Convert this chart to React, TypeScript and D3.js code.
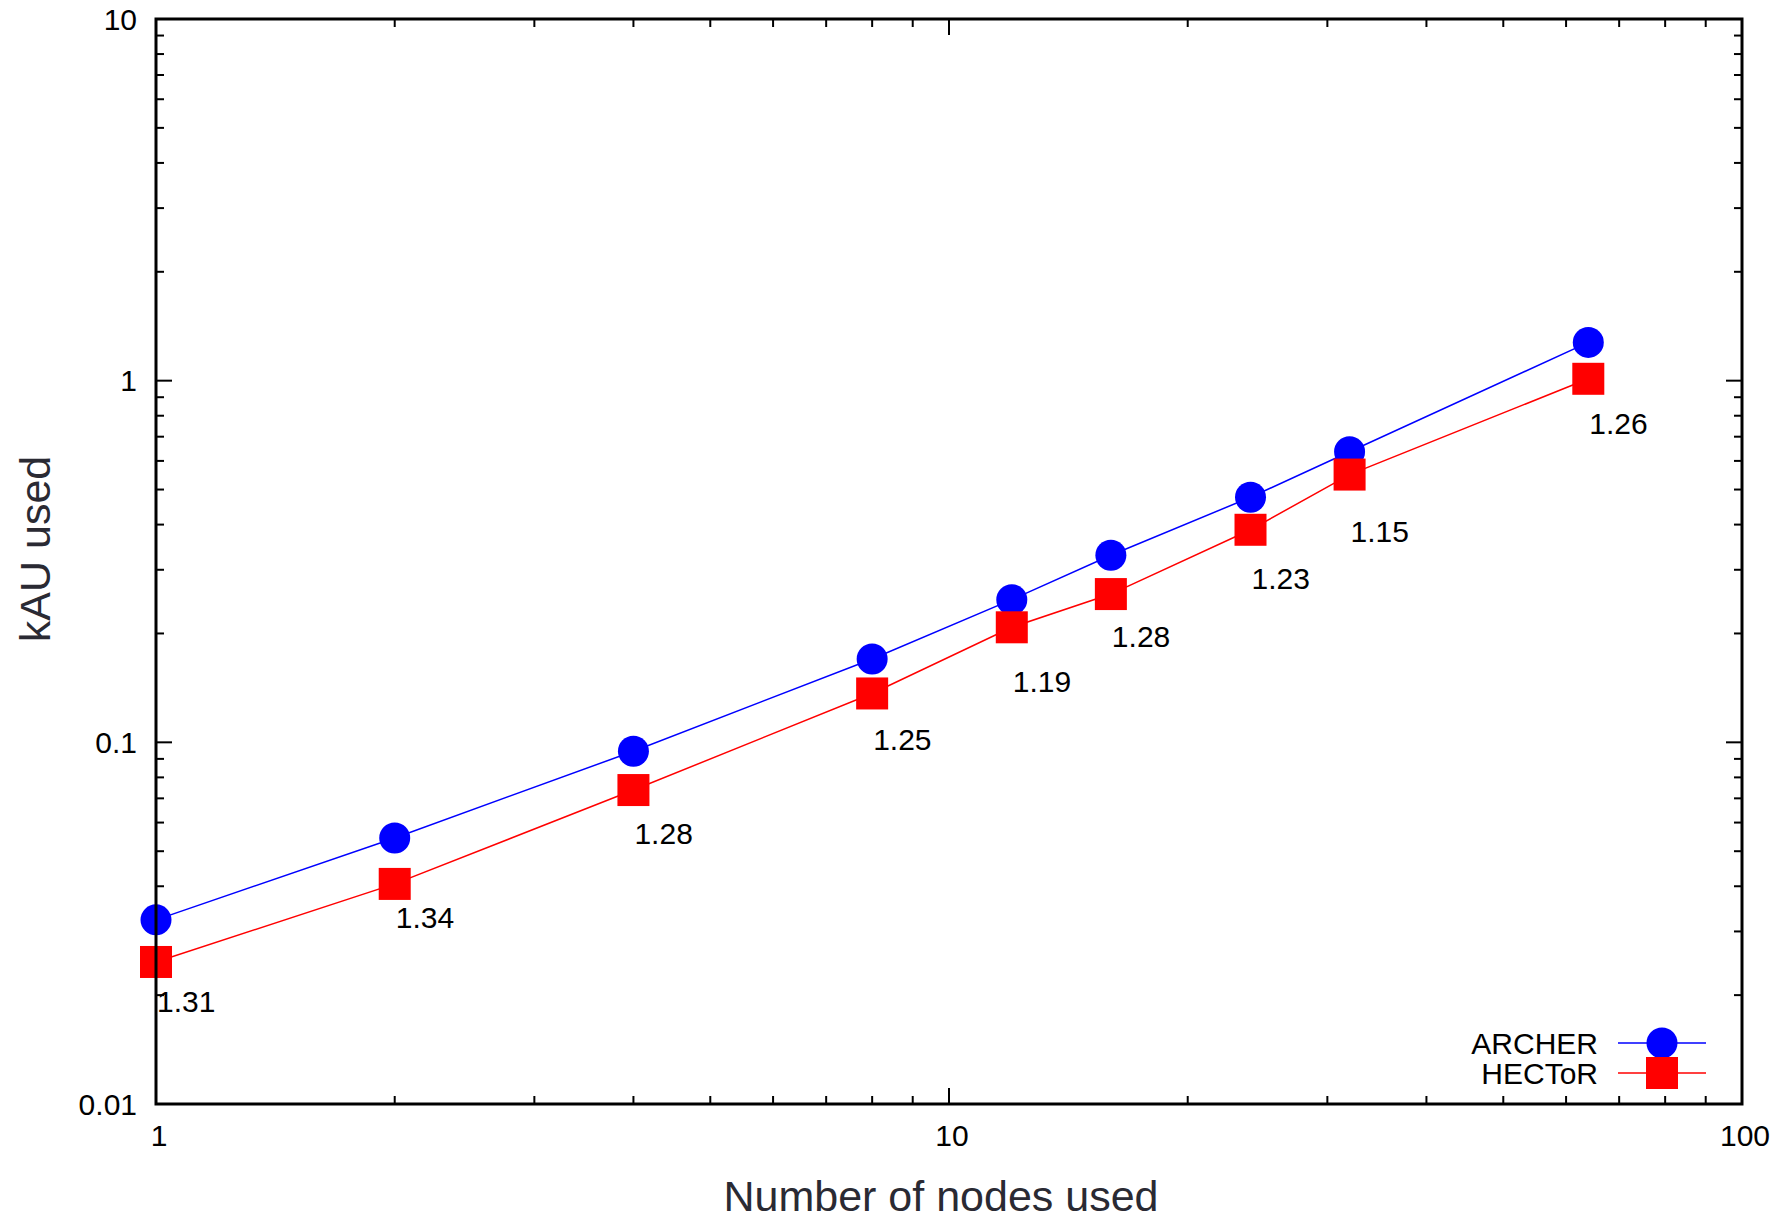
import React from 'react';
import * as d3 from 'd3';

// node counts and kAU used per system
const nodes = [1, 2, 4, 8, 12, 16, 24, 32, 64];
const archer = [0.0323, 0.0544, 0.0945, 0.170, 0.248, 0.329, 0.476, 0.636, 1.276];
const hector = [0.0247, 0.0406, 0.0738, 0.1365, 0.208, 0.257, 0.387, 0.550, 1.012];
// ratio labels and the kAU value where each label sits
const ratioLabels = ['1.31', '1.34', '1.28', '1.25', '1.19', '1.28', '1.23', '1.15', '1.26'];
const labelAt = [0.0180, 0.0306, 0.0522, 0.0955, 0.138, 0.184, 0.266, 0.357, 0.710];
const yTickLabels = ['0.01', '0.1', '1', '10'];
const xTickLabels = ['1', '10', '100'];

const W = 1786;
const H = 1223;
const margin = { top: 19, right: 44, bottom: 119, left: 156 };
const font = '"Liberation Sans", Arial, Helvetica, sans-serif';

const App = () => {
  const x = d3.scaleLog().domain([1, 100]).range([margin.left, W - margin.right]);
  const y = d3.scaleLog().domain([0.01, 10]).range([H - margin.bottom, margin.top]);
  const [x0, x1] = x.range();
  const [y0, y1] = y.range(); // y0 bottom, y1 top

  const isMajor = (v: number) => Math.abs(Math.log10(v) - Math.round(Math.log10(v))) < 1e-9;

  const line = d3.line<number>()
    .x((_, i) => x(nodes[i]))
    .y(d => y(d));

  const xt = x.ticks();
  const yt = y.ticks();

  return (
    <svg width={W} height={H} style={{ position: 'absolute', left: 0, top: 0, display: 'block' }}
      fontFamily={font}>
      <rect width={W} height={H} fill="#fff" />

      {/* ticks, mirrored on all four sides */}
      <g stroke="#000" strokeWidth={2}>
        {xt.map((t, i) => {
          const len = isMajor(t) ? 16 : 8;
          return (
            <g key={'x' + i}>
              <line x1={x(t)} x2={x(t)} y1={y0} y2={y0 - len} />
              <line x1={x(t)} x2={x(t)} y1={y1} y2={y1 + len} />
            </g>
          );
        })}
        {yt.map((t, i) => {
          const len = isMajor(t) ? 16 : 8;
          return (
            <g key={'y' + i}>
              <line x1={x0} x2={x0 + len} y1={y(t)} y2={y(t)} />
              <line x1={x1} x2={x1 - len} y1={y(t)} y2={y(t)} />
            </g>
          );
        })}
      </g>

      {/* series lines */}
      <path d={line(archer) ?? ''} fill="none" stroke="#0000ff" strokeWidth={1.5} />
      <path d={line(hector) ?? ''} fill="none" stroke="#ff0000" strokeWidth={1.5} />

      {/* markers */}
      {archer.map((v, i) => (
        <circle key={'a' + i} cx={x(nodes[i])} cy={y(v)} r={15.5} fill="#0000ff" />
      ))}
      {hector.map((v, i) => (
        <rect key={'h' + i} x={x(nodes[i]) - 16} y={y(v) - 16} width={32} height={32} fill="#ff0000" />
      ))}

      {/* ratio labels */}
      {ratioLabels.map((s, i) => (
        <text key={'l' + i} x={x(nodes[i]) + 1} y={y(labelAt[i])} fontSize={30} fill="#000">{s}</text>
      ))}

      {/* border */}
      <rect x={x0} y={y1} width={x1 - x0} height={y0 - y1} fill="none" stroke="#000" strokeWidth={3} />

      {/* tick labels */}
      {yTickLabels.map(s => (
        <text key={'yl' + s} x={x0 - 19} y={y(+s)} dy="0.36em" textAnchor="end" fontSize={30} fill="#000">{s}</text>
      ))}
      {xTickLabels.map(s => (
        <text key={'xl' + s} x={x(+s) + 3} y={y0 + 42} textAnchor="middle" fontSize={30} fill="#000">{s}</text>
      ))}

      {/* axis titles */}
      <text x={(x0 + x1) / 2 - 8} y={1211} textAnchor="middle" fontSize={43} fill="#2a2a33">Number of nodes used</text>
      <text transform={`translate(50, ${549}) rotate(-90)`} textAnchor="middle" fontSize={43} fill="#2a2a33">kAU used</text>

      {/* legend */}
      <g fontSize={30} fill="#000">
        <text x={1598} y={1054} textAnchor="end">ARCHER</text>
        <line x1={1618} x2={1706} y1={1043} y2={1043} stroke="#0000ff" strokeWidth={1.5} />
        <circle cx={1662} cy={1043} r={15.5} fill="#0000ff" />
        <text x={1598} y={1084} textAnchor="end">HECToR</text>
        <line x1={1618} x2={1706} y1={1073} y2={1073} stroke="#ff0000" strokeWidth={1.5} />
        <rect x={1646} y={1057} width={32} height={32} fill="#ff0000" />
      </g>
    </svg>
  );
};

export default App;
